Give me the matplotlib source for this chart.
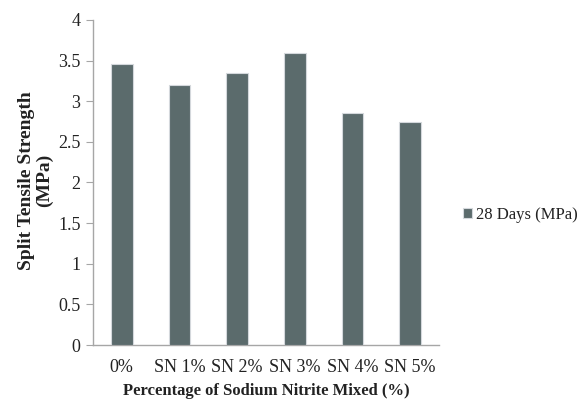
import numpy as np
import matplotlib.pyplot as plt

plt.rcParams['font.family'] = ['Liberation Serif', 'DejaVu Serif']

# Chart data
categories = ["0%", "SN 1%", "SN 2%", "SN 3%", "SN 4%", "SN 5%"]
strength_28d = [3.46, 3.20, 3.35, 3.59, 2.86, 2.74]
series_name = "28 Days (MPa)"

fig = plt.figure(figsize=(5.81, 4.08), dpi=100)
ax = fig.add_axes([0.160, 0.1544, 0.5956, 0.7966])

x = np.arange(len(categories))
ax.bar(x, strength_28d, width=0.38, color='#5b6b6c', edgecolor='#d4d8dc',
       linewidth=0.8, label=series_name, zorder=3)

ax.set_xlim(-0.5, len(categories) - 0.5)
ax.set_ylim(0, 4)
ax.set_yticks(np.arange(0, 4.01, 0.5))
ax.set_yticklabels(['0', '0.5', '1', '1.5', '2', '2.5', '3', '3.5', '4'])
ax.set_xticks(x)
ax.set_xticklabels(categories)

for s in ['top', 'right']:
    ax.spines[s].set_visible(False)
for s in ['left', 'bottom']:
    ax.spines[s].set_color('#a6a6a6')
    ax.spines[s].set_linewidth(1.0)

ax.tick_params(axis='y', colors='#a6a6a6', labelcolor='#222222', length=5,
               labelsize=13, pad=4)
ax.tick_params(axis='x', length=0, labelcolor='#222222', labelsize=13, pad=10)

ax.set_ylabel("Split Tensile Strength\n(MPa)", fontsize=14, fontweight='bold',
              color='#222222', linespacing=1.05)
ax.yaxis.set_label_coords(-0.115, 0.505)
ax.set_xlabel("Percentage of Sodium Nitrite Mixed (%)", fontsize=12,
              fontweight='bold', color='#222222', labelpad=5)

fig.legend(loc='center left', bbox_to_anchor=(0.797, 0.473), frameon=False,
           fontsize=12, handlelength=0.55, handleheight=0.55, handletextpad=0.25,
           labelcolor='#222222', borderpad=0, borderaxespad=0)

fig.savefig('out.png', dpi=100)
